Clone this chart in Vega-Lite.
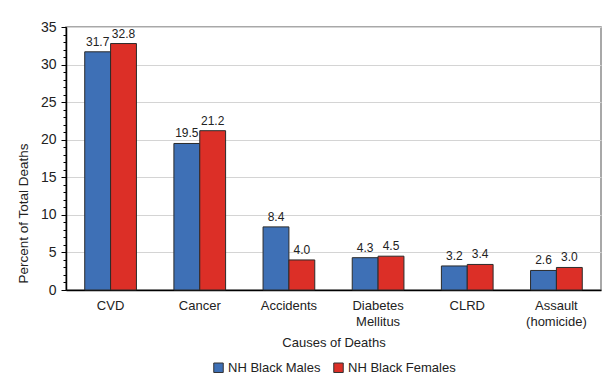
{
  "$schema": "https://vega.github.io/schema/vega-lite/v6.json",
  "width": 535,
  "height": 263,
  "autosize": {"type": "none"},
  "padding": {"left": 66, "top": 27, "right": 11, "bottom": 97},
  "background": "white",
  "config": {
    "font": "Liberation Sans",
    "view": {"stroke": "#8c8c8c", "strokeWidth": 1.5},
    "axis": {"labelFont": "Liberation Sans", "titleFont": "Liberation Sans", "labelColor": "#222", "titleColor": "#222", "titleFontWeight": "normal"},
    "legend": {"labelFont": "Liberation Sans", "layout": {"bottom": {"anchor": "middle"}}}
  },
  "data": {
    "values": [
      {"cause": "CVD", "group": "NH Black Males", "pct": 31.7},
      {"cause": "CVD", "group": "NH Black Females", "pct": 32.8},
      {"cause": "Cancer", "group": "NH Black Males", "pct": 19.5},
      {"cause": "Cancer", "group": "NH Black Females", "pct": 21.2},
      {"cause": "Accidents", "group": "NH Black Males", "pct": 8.4},
      {"cause": "Accidents", "group": "NH Black Females", "pct": 4.0},
      {"cause": "Diabetes Mellitus", "group": "NH Black Males", "pct": 4.3},
      {"cause": "Diabetes Mellitus", "group": "NH Black Females", "pct": 4.5},
      {"cause": "CLRD", "group": "NH Black Males", "pct": 3.2},
      {"cause": "CLRD", "group": "NH Black Females", "pct": 3.4},
      {"cause": "Assault (homicide)", "group": "NH Black Males", "pct": 2.6},
      {"cause": "Assault (homicide)", "group": "NH Black Females", "pct": 3.0}
    ]
  },
  "encoding": {
    "x": {
      "field": "cause", "type": "nominal", "sort": null,
      "scale": {"paddingInner": 0.42, "paddingOuter": 0.21},
      "axis": {
        "title": "Causes of Deaths", "titleFontSize": 13, "titlePadding": 8,
        "labelAngle": 0, "labelFontSize": 13, "labelPadding": 9, "ticks": false,
        "domainColor": "#000", "domainWidth": 1.5,
        "labelExpr": "datum.value == 'Diabetes Mellitus' ? ['Diabetes', 'Mellitus'] : datum.value == 'Assault (homicide)' ? ['Assault', '(homicide)'] : datum.value",
        "labelLineHeight": 16
      }
    },
    "xOffset": {"field": "group", "type": "nominal", "sort": null, "scale": {"paddingInner": 0, "paddingOuter": 0}},
    "y": {"field": "pct", "type": "quantitative", "scale": {"domain": [0, 35], "nice": false}}
  },
  "layer": [
    {
      "mark": {"type": "bar", "stroke": "#2b2b2b", "strokeWidth": 1},
      "encoding": {
        "y": {
          "field": "pct", "type": "quantitative", "scale": {"domain": [0, 35], "nice": false},
          "axis": {
            "title": "Percent of Total Deaths", "titleFontSize": 13.5, "titlePadding": 10,
            "titleY": 186, "titleAlign": "center",
            "values": [0, 5, 10, 15, 20, 25, 30, 35], "labelFontSize": 14, "labelPadding": 5,
            "tickSize": 5, "tickColor": "#000", "domainColor": "#000", "domainWidth": 1.5,
            "grid": true, "gridColor": "#d4d4d4", "gridWidth": 1.2
          }
        },
        "color": {
          "field": "group", "type": "nominal", "sort": null,
          "scale": {"domain": ["NH Black Males", "NH Black Females"], "range": ["#3e70b6", "#dc2f27"]},
          "legend": {
            "title": null, "orient": "bottom", "direction": "horizontal", "offset": 12,
            "symbolType": "square", "symbolSize": 90, "symbolStrokeColor": "#333", "symbolStrokeWidth": 1,
            "labelFontSize": 13, "labelColor": "#222", "columnPadding": 10, "labelOffset": 3
          }
        }
      }
    },
    {
      "mark": {"type": "text", "baseline": "bottom", "dy": -3, "fontSize": 12, "color": "#222"},
      "encoding": {
        "y": {
          "field": "pct", "type": "quantitative", "scale": {"domain": [0, 35], "nice": false},
          "axis": {
            "title": null, "labels": false, "domain": false, "grid": false,
            "values": [0,1,2,3,4,5,6,7,8,9,10,11,12,13,14,15,16,17,18,19,20,21,22,23,24,25,26,27,28,29,30,31,32,33,34,35],
            "tickSize": 3, "tickColor": "#000", "orient": "left"
          }
        },
        "text": {"field": "pct", "type": "quantitative", "format": ".1f"}
      }
    }
  ],
  "resolve": {"axis": {"y": "independent"}}
}
